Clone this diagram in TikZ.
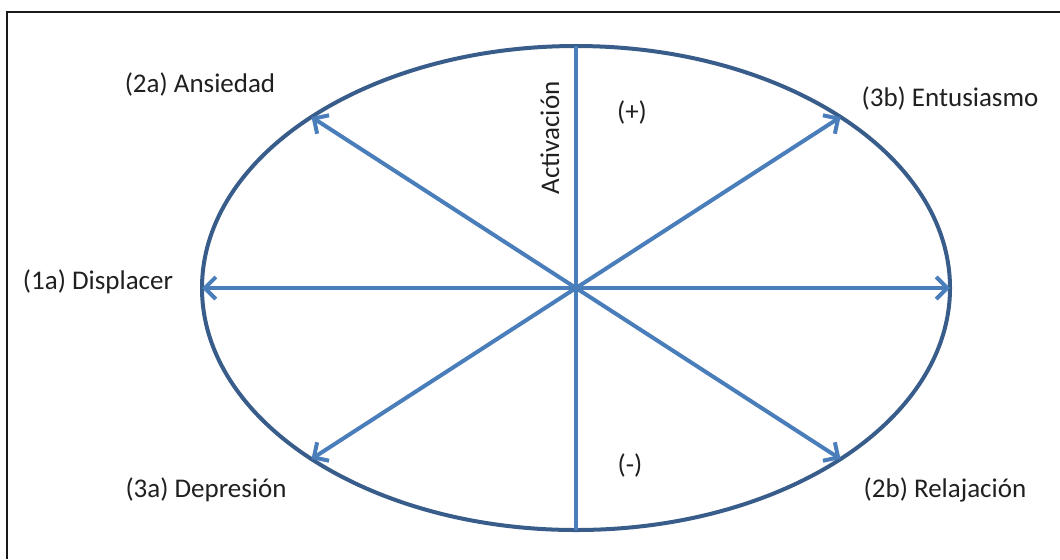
\documentclass[tikz,border=0pt]{standalone}
\usepackage{fontspec}
\setmainfont{Carlito}
\usetikzlibrary{arrows.meta}
\definecolor{Rim}{HTML}{385D8A}
\definecolor{Axis}{HTML}{4A7EBB}
\definecolor{Frame}{HTML}{1A1A1A}
\definecolor{Ink}{HTML}{202020}
\tikzset{
  rim/.style={draw=Rim, line width=2pt},
  axis/.style={draw=Axis, line width=2pt},
  ray/.style={axis, -{Straight Barb[length=5.5pt,width=11pt,line width=2pt]}},
  mood/.style={font=\fontsize{13.5}{16}\selectfont, text=Ink, inner sep=0pt}
}

\begin{document}
\begin{tikzpicture}[x=0.5pt,y=-0.5pt]
    \useasboundingbox (0,0) rectangle (1060,559);
    \draw[Frame, line width=0.8pt] (7,559) -- (7,12) -- (1060,12);
    % ellipse and its rim points
    \coordinate (o) at (576,288);
    \coordinate (top) at (576,46);
    \coordinate (bot) at (576,530);
    \coordinate (w) at (202,288);
    \coordinate (e) at (950,288);
    \coordinate (nw) at (311.5,117);
    \coordinate (ne) at (840.5,117);
    \coordinate (sw) at (311.5,459);
    \coordinate (se) at (840.5,459);
    \draw[rim] (o) ellipse [x radius=374, y radius=242];
    \draw[axis] (top) -- (bot);
    \foreach \t in {w,e,nw,ne,sw,se}
      \draw[ray] (o) -- (\t);
    % labels
    \node[mood] (anx) at (200,84) {(2a) Ansiedad};
    \node[mood] (ent) at (950,98) {(3b) Entusiasmo};
    \node[mood] (dis) at (98,282) {(1a) Displacer};
    \node[mood] (dep) at (206,490) {(3a) Depresión};
    \node[mood] (rel) at (945,490) {(2b) Relajación};
    \node[mood] (pos) at (632,112) {(+)};
    \node[mood] (neg) at (630,465) {(-)};
    \node[mood, rotate=90] (act) at (550,138) {Activación};
\end{tikzpicture}
\end{document}
